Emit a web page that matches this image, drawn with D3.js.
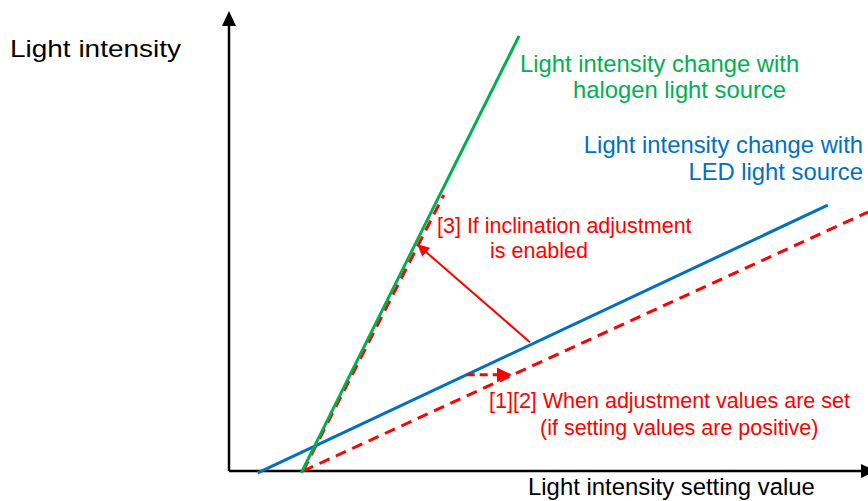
<!DOCTYPE html>
<html>
<head>
<meta charset="utf-8">
<script src="https://cdn.jsdelivr.net/npm/d3@7"></script>
<style>
body { margin: 0; background: #fff; }
svg { display: block; font-family: "Liberation Sans", Arial, sans-serif; }
</style>
</head>
<body>
<svg id="svg" width="868" height="501"></svg>
<script>
// conceptual chart, values in arbitrary units 0..100 on both axes
var halogenLine = [[11.3, -0.4], [45.4, 94.6]];
var ledLine = [[4.5, -0.4], [93.7, 57.8]];
var ledShifted = [[11.6, 0], [100, 56.3]];
var ledTilted = [[11.6, 0], [33.6, 60]];
var tiltArrow = [[47.1, 28.0], [29.6, 49.1]];
var shiftArrow = [[37.2, 20.9], [44.0, 20.9]];

var yTitle = "Light intensity";
var xTitle = "Light intensity setting value";
var halogenLabel = ["Light intensity change with", "halogen light source"];
var ledLabel = ["Light intensity change with", "LED light source"];
var tiltLabel = ["[3] If inclination adjustment", "is enabled"];
var shiftLabel = ["[1][2] When adjustment values are set", "(if setting values are positive)"];

var green = "#00b050", blue = "#0070c0", red = "#ff0000";

var svg = d3.select("#svg");
var x = d3.scaleLinear().domain([0, 100]).range([229, 868]);
var y = d3.scaleLinear().domain([0, 100]).range([471, 11]);
var line = d3.line().x(function(d){return x(d[0])}).y(function(d){return y(d[1])});

var defs = svg.append("defs");
defs.append("marker")
    .attr("id", "redhead")
    .attr("viewBox", "0 0 10 10")
    .attr("refX", 9).attr("refY", 5)
    .attr("markerWidth", 6).attr("markerHeight", 6)
    .attr("markerUnits", "strokeWidth")
    .attr("orient", "auto")
    .append("path").attr("d", "M0,0L10,5L0,10Z").attr("fill", red);
defs.append("marker")
    .attr("id", "redhead2")
    .attr("viewBox", "0 0 10 10")
    .attr("refX", 9).attr("refY", 5)
    .attr("markerWidth", 5).attr("markerHeight", 5)
    .attr("markerUnits", "strokeWidth")
    .attr("orient", "auto")
    .append("path").attr("d", "M0,0L10,5L0,10Z").attr("fill", red);

//axes
svg.append("line")
    .attr("x1", x(0)).attr("y1", y(0))
    .attr("x2", x(0)).attr("y2", y(0) - 450)
    .attr("stroke", "#000").attr("stroke-width", 2.5);
svg.append("path")
    .attr("d", "M" + x(0) + ",11L" + (x(0) - 7) + ",26L" + (x(0) + 7) + ",26Z")
    .attr("fill", "#000");
svg.append("line")
    .attr("x1", x(0)).attr("y1", y(0))
    .attr("x2", 862).attr("y2", y(0))
    .attr("stroke", "#000").attr("stroke-width", 2.5);
svg.append("path")
    .attr("d", "M876," + y(0) + "L861," + (y(0) - 7) + "L861," + (y(0) + 7) + "Z")
    .attr("fill", "#000");

//dashed red lines
[ledShifted, ledTilted].forEach(function(d){
    svg.append("path")
        .attr("d", line(d))
        .attr("fill", "none")
        .attr("stroke", red).attr("stroke-width", 3)
        .attr("stroke-dasharray", "11,7");
});

//light source lines
svg.append("path").attr("d", line(ledLine))
    .attr("fill", "none").attr("stroke", blue).attr("stroke-width", 3);
svg.append("path").attr("d", line(halogenLine))
    .attr("fill", "none").attr("stroke", green).attr("stroke-width", 3);

//arrows
svg.append("path").attr("d", line(tiltArrow))
    .attr("fill", "none").attr("stroke", red).attr("stroke-width", 2)
    .attr("marker-end", "url(#redhead)");
svg.append("path").attr("d", line(shiftArrow))
    .attr("fill", "none").attr("stroke", red).attr("stroke-width", 3)
    .attr("stroke-dasharray", "8,5")
    .attr("marker-end", "url(#redhead2)");

//texts
function label(lines, xs, ys, size, color, anchor){
    lines.forEach(function(t, i){
        svg.append("text")
            .attr("x", xs[i]).attr("y", ys[i])
            .attr("font-size", size)
            .attr("fill", color)
            .attr("text-anchor", anchor || "start")
            .text(t);
    });
}
svg.append("text")
    .attr("x", 10).attr("y", 57)
    .attr("font-size", 24.5)
    .attr("textLength", 171).attr("lengthAdjust", "spacingAndGlyphs")
    .text(yTitle);
label([xTitle], [528], [495], 23.9, "#000");
label(halogenLabel, [520, 573], [72, 98], 23.8, green);
label(ledLabel, [863, 863], [153, 180], 23.8, blue, "end");
label(tiltLabel, [437, 490], [233, 258], 21.5, red);
label(shiftLabel, [489, 540], [408, 435], 21.5, red);
</script>
</body>
</html>
